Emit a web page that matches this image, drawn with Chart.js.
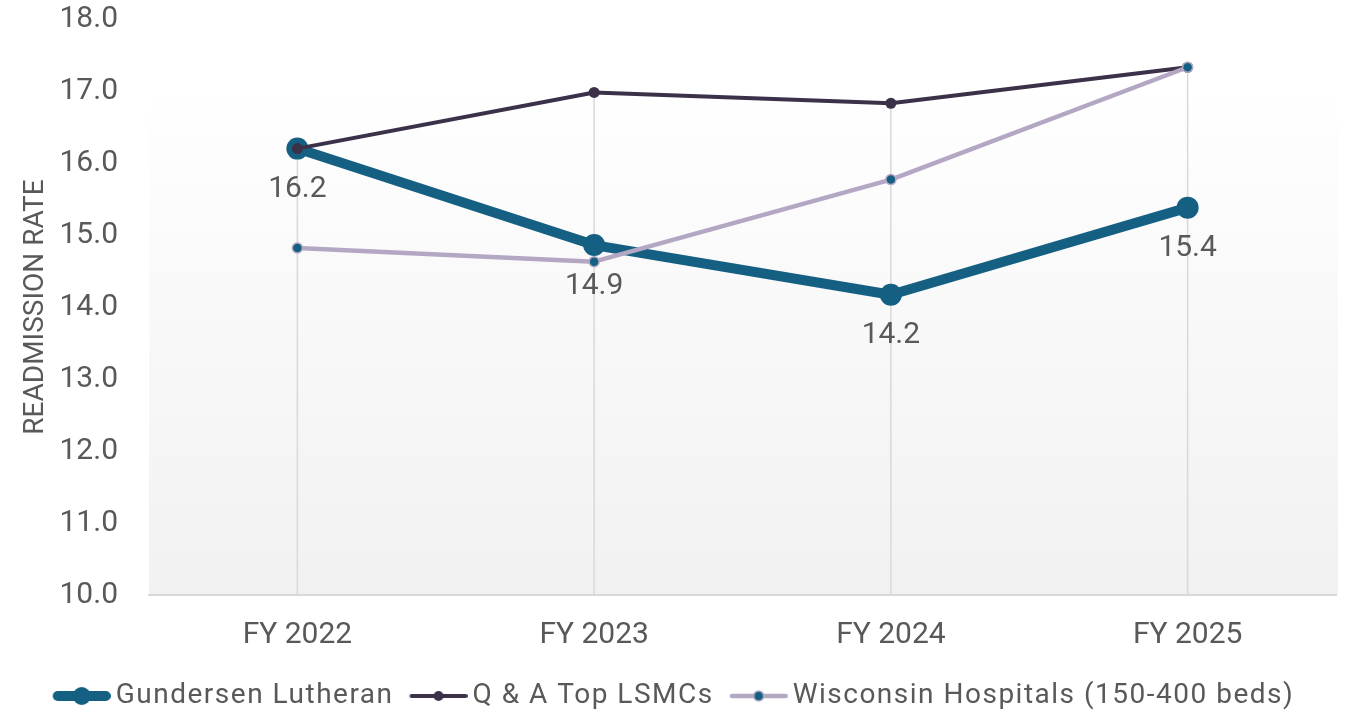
<!DOCTYPE html>
<html>
<head>
<meta charset="utf-8">
<script src="https://cdn.jsdelivr.net/npm/chart.js@4/dist/chart.umd.min.js"></script>
<style>
  html, body { margin: 0; padding: 0; background: #ffffff; }
  #wrap { width: 1347px; height: 712px; position: relative; }
</style>
</head>
<body>
<div id="wrap"><canvas id="c" width="1347" height="712"></canvas></div>
<script>
const categories = ['FY 2022', 'FY 2023', 'FY 2024', 'FY 2025'];
const gundersen = [16.2, 14.86, 14.17, 15.38];
const topLSMCs = [16.2, 16.98, 16.83, 17.33];
const wisconsin = [14.82, 14.63, 15.77, 17.33];
const seriesNames = ['Gundersen Lutheran', 'Q & A Top LSMCs', 'Wisconsin Hospitals (150-400 beds)'];
const yMin = 10, yMax = 18, yStep = 1;

const TEXT = '#595959';
const C_GUND = '#156082';
const C_LSMC = '#3b3249';
const C_WISC = '#b4a7c4';
const FONT = 'Roboto';

function legendIcon(lineColor, lineWidth, radius, fill, border, borderWidth) {
  const cv = document.createElement('canvas');
  cv.width = 73; cv.height = 26;
  const g = cv.getContext('2d');
  g.strokeStyle = lineColor; g.lineWidth = lineWidth; g.lineCap = 'round';
  g.beginPath(); g.moveTo(15 + lineWidth / 2, 13); g.lineTo(73 - lineWidth / 2, 13); g.stroke();
  g.beginPath(); g.arc(44, 13, radius, 0, Math.PI * 2);
  g.fillStyle = fill; g.fill();
  if (borderWidth) { g.lineWidth = borderWidth; g.strokeStyle = border; g.stroke(); }
  return cv;
}
const icons = [
  legendIcon(C_GUND, 10, 9, C_GUND, C_GUND, 0),
  legendIcon(C_LSMC, 4, 5, C_LSMC, C_LSMC, 0),
  legendIcon(C_WISC, 4.5, 5, C_GUND, C_WISC, 1.5)
];

const bgPlugin = {
  id: 'bg',
  beforeLayout(chart) {
    const lg = chart.legend;
    if (lg && !lg._spaced) {
      lg._spaced = true;
      const ctx = chart.ctx;
      const wrap = fn => function () {
        ctx.save();
        ctx.letterSpacing = '1.5px';
        const r = fn.apply(this, arguments);
        ctx.restore();
        return r;
      };
      lg.fit = wrap(lg.fit);
      lg.draw = wrap(lg.draw);
    }
  },
  beforeDraw(chart) {
    const { ctx, chartArea: a } = chart;
    const top = a.top + (a.bottom - a.top) * 0.1115;
    const grad = ctx.createLinearGradient(0, top, 0, a.bottom);
    grad.addColorStop(0, '#ffffff');
    grad.addColorStop(1, '#f1f1f1');
    ctx.save();
    ctx.fillStyle = grad;
    ctx.fillRect(a.left, top, a.right - a.left + 2, a.bottom - top);
    ctx.restore();
  },
  beforeDatasetsDraw(chart) {
    const { ctx, chartArea: a, scales: { x, y } } = chart;
    ctx.save();
    ctx.strokeStyle = '#d9d9d9';
    ctx.lineWidth = 1.5;
    categories.forEach((c, i) => {
      const maxV = Math.max(gundersen[i], topLSMCs[i], wisconsin[i]);
      const px = x.getPixelForValue(i);
      ctx.beginPath();
      ctx.moveTo(px, y.getPixelForValue(maxV));
      ctx.lineTo(px, a.bottom);
      ctx.stroke();
    });
    ctx.restore();
  },
  afterDatasetsDraw(chart) {
    const { ctx } = chart;
    const meta = chart.getDatasetMeta(0);
    ctx.save();
    ctx.font = '30px ' + FONT;
    ctx.fillStyle = TEXT;
    ctx.textAlign = 'center';
    ctx.textBaseline = 'middle';
    meta.data.forEach((pt, i) => {
      ctx.fillText(gundersen[i].toFixed(1), pt.x, pt.y + 41);
    });
    ctx.restore();
  }
};

new Chart(document.getElementById('c'), {
  type: 'line',
  data: {
    labels: categories,
    datasets: [
      { label: seriesNames[0], data: gundersen, borderColor: C_GUND, backgroundColor: C_GUND,
        borderWidth: 10, pointRadius: 11, pointBackgroundColor: C_GUND, pointBorderWidth: 0, order: 3 },
      { label: seriesNames[1], data: topLSMCs, borderColor: C_LSMC, backgroundColor: C_LSMC,
        borderWidth: 4, pointRadius: 5.5, pointBackgroundColor: C_LSMC, pointBorderWidth: 0, order: 2 },
      { label: seriesNames[2], data: wisconsin, borderColor: C_WISC, backgroundColor: C_GUND,
        borderWidth: 4.5, pointRadius: 5, pointBackgroundColor: C_GUND, pointBorderColor: C_WISC, pointBorderWidth: 1.5, order: 1 }
    ]
  },
  options: {
    responsive: false,
    animation: false,
    devicePixelRatio: 1,
    layout: { padding: { top: 19, left: 0, right: 6, bottom: -8 } },
    elements: { line: { tension: 0, borderJoinStyle: 'round', borderCapStyle: 'round' } },
    scales: {
      x: {
        offset: true,
        afterFit(s) { s.height -= 3; },
        grid: { display: false, drawTicks: false },
        border: { display: true, color: '#d9d9d9', width: 2 },
        ticks: { color: TEXT, font: { family: FONT, size: 30 }, padding: 22 }
      },
      y: {
        min: yMin, max: yMax,
        afterFit(s) { s.width = 149; s.paddingTop = 0; s.paddingBottom = 0; },
        grid: { display: false, drawTicks: false },
        border: { display: false },
        ticks: { stepSize: yStep, color: TEXT, font: { family: FONT, size: 30 }, padding: 31,
                 callback: v => Number(v).toFixed(1) },
        title: { display: true, text: 'READMISSION RATE', color: TEXT,
                 font: { family: FONT, size: 28 }, padding: { top: 19, bottom: 0 } }
      }
    },
    plugins: {
      tooltip: { enabled: false },
      legend: {
        position: 'bottom',
        labels: {
          usePointStyle: true,
          pointStyleWidth: 55,
          padding: 10,
          color: TEXT,
          font: { family: FONT, size: 28 },
          generateLabels(chart) {
            const items = Chart.defaults.plugins.legend.labels.generateLabels(chart);
            items.sort((a, b) => a.datasetIndex - b.datasetIndex);
            items.forEach(it => { it.pointStyle = icons[it.datasetIndex]; it.lineWidth = 0; });
            return items;
          }
        }
      }
    }
  },
  plugins: [bgPlugin]
});
</script>
</body>
</html>
